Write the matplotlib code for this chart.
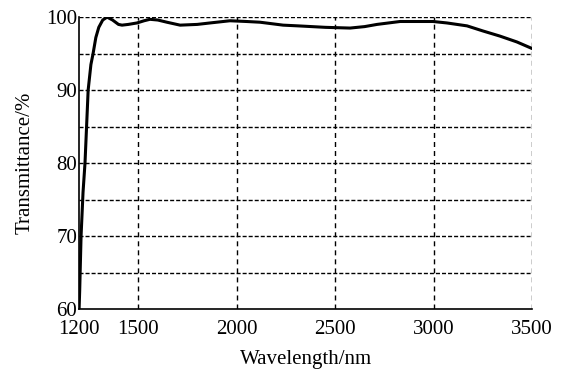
import matplotlib.pyplot as plt

wavelength = [1200, 1203, 1210, 1220, 1230, 1246, 1260, 1271, 1285, 1300, 1320, 1342,
              1370, 1400, 1418, 1450, 1494, 1530, 1560, 1600, 1646, 1713, 1800, 1865,
              1966, 2050, 2119, 2236, 2312, 2450, 2576, 2650, 2713, 2830, 2920, 2997,
              3068, 3170, 3251, 3337, 3423, 3500]
transmittance = [60.0, 62.5, 70.0, 76.0, 80.0, 90.0, 93.5, 95.0, 97.2, 98.6, 99.6, 100.0,
                 99.6, 99.0, 98.9, 99.0, 99.2, 99.5, 99.7, 99.6, 99.3, 98.9, 99.0, 99.2,
                 99.5, 99.4, 99.3, 98.9, 98.8, 98.6, 98.5, 98.7, 99.0, 99.4, 99.4, 99.4,
                 99.2, 98.8, 98.1, 97.4, 96.6, 95.7]

xticks = [1200, 1500, 2000, 2500, 3000, 3500]
yticks = [60, 70, 80, 90, 100]

plt.rcParams['font.family'] = ['Liberation Serif', 'DejaVu Serif']

fig = plt.figure(figsize=(5.69, 3.72), dpi=100)
ax = fig.add_axes([0.139, 0.169, 0.796, 0.785])

# dashed vertical grid, dotted horizontal grid every 5 %
for x in xticks[1:]:
    ax.axvline(x, color='black', lw=1.0, linestyle=(0, (3.6, 2.9)), zorder=1)
for y in range(65, 101, 5):
    ax.axhline(y, color='black', lw=1.0, linestyle=(0, (2.9, 1.45)), zorder=1)

ax.plot(wavelength, transmittance, color='black', lw=2.2, zorder=3)

ax.set_xlim(1200, 3500)
ax.set_ylim(60, 100)
ax.set_xticks(xticks)
ax.set_yticks(yticks)
ax.tick_params(length=0, labelsize=15)
ax.tick_params(axis='x', pad=8)
ax.tick_params(axis='y', pad=1.5)
ax.spines['top'].set_visible(False)
ax.spines['right'].set_visible(False)
ax.spines['left'].set_linewidth(1.2)
ax.spines['bottom'].set_linewidth(1.2)

ax.set_xlabel('Wavelength/nm', fontsize=15, labelpad=8)
ax.set_ylabel('Transmittance/%', fontsize=15, labelpad=8)

fig.savefig('out.png', dpi=100)
